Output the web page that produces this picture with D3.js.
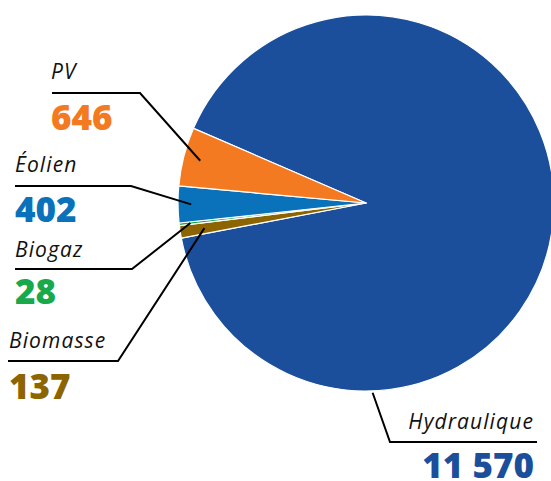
<!DOCTYPE html>
<html><head><meta charset="utf-8">
<script src="https://cdn.jsdelivr.net/npm/d3@7"></script>
<style>
html,body{margin:0;padding:0;background:#fff;}
svg{display:block;}
</style></head>
<body>
<svg id="chart" width="551" height="481"></svg>
<script>
// ---- data ----
const categories = ["Hydraulique", "Biomasse", "Biogaz", "Éolien", "PV"];
const values = [11570, 137, 28, 402, 646];
const colors = ["#1b4f9c", "#8c6500", "#19a94b", "#0a72ba", "#f47a21"];

// ---- layout ----
const W = 551, H = 481;
const cx = 366, cy = 203, R = 188;
const startDeg = -66.6;

const svg = d3.select("#chart");
const fmt = d3.formatLocale({decimal: ",", thousands: "\u202f", grouping: [3], currency: ["", ""]}).format(",d");
const fmtSp = v => fmt(v).replace(/\u202f/g, " ");

const pie = d3.pie().sort(null).value(d => d.v)
  .startAngle(startDeg * Math.PI / 180)
  .endAngle(startDeg * Math.PI / 180 + 2 * Math.PI);
const data = categories.map((c, i) => ({c, v: values[i], col: colors[i]}));
const arcs = pie(data);
const arc = d3.arc().innerRadius(0).outerRadius(R);

const g = svg.append("g").attr("transform", `translate(${cx},${cy})`);
g.selectAll("path").data(arcs).join("path")
  .attr("d", arc)
  .attr("fill", d => d.data.col)
  .attr("stroke", "#fff")
  .attr("stroke-width", 1.2)
  .attr("stroke-linejoin", "round");

// label layout (per category): text anchor, elbow, leader end (radius factor / angle)
const labelLayout = {
  "PV":          {x: 51, nameY: 79,  lineY: 93,  lineX0: 52, lineX1: 140, numY: 130, rf: 0.91, ang: null, anchor: "start"},
  "Éolien":      {x: 15, nameY: 172, lineY: 186, lineX0: 15, lineX1: 131, numY: 222, rf: 0.93, ang: null, anchor: "start"},
  "Biogaz":      {x: 15, nameY: 257, lineY: 269, lineX0: 15, lineX1: 132, numY: 304, rf: 0.94, ang: null, anchor: "start"},
  "Biomasse":    {x: 9,  nameY: 348, lineY: 361, lineX0: 8,  lineX1: 118, numY: 399, rf: 0.87, ang: null, anchor: "start"},
  "Hydraulique": {x: 534, nameY: 429, lineY: 442, lineX0: 537, lineX1: 390, numY: 478, rf: 1.01, ang: 178, anchor: "end"}
};

arcs.forEach(a => {
  const L = labelLayout[a.data.c];
  const mid = L.ang !== null ? L.ang * Math.PI / 180 : (a.startAngle + a.endAngle) / 2;
  const r = R * L.rf;
  const ex = cx + Math.sin(mid) * r, ey = cy - Math.cos(mid) * r;
  svg.append("path")
    .attr("d", d3.line()([[L.lineX0, L.lineY], [L.lineX1, L.lineY], [ex, ey]]))
    .attr("fill", "none").attr("stroke", "#000").attr("stroke-width", 2);
  svg.append("text")
    .attr("x", L.x).attr("y", L.nameY)
    .attr("text-anchor", L.anchor)
    .attr("font-family", "'Open Sans', sans-serif")
    .attr("font-style", "italic")
    .attr("font-size", 21)
    .attr("letter-spacing", 1.1)
    .attr("fill", "#111")
    .text(a.data.c);
  svg.append("text")
    .attr("x", L.x).attr("y", L.numY)
    .attr("text-anchor", L.anchor)
    .attr("font-family", "'Open Sans', sans-serif")
    .attr("font-weight", 800)
    .attr("font-size", 35)
    .attr("fill", a.data.col)
    .text(fmtSp(a.data.v));
});
</script>
</body></html>
